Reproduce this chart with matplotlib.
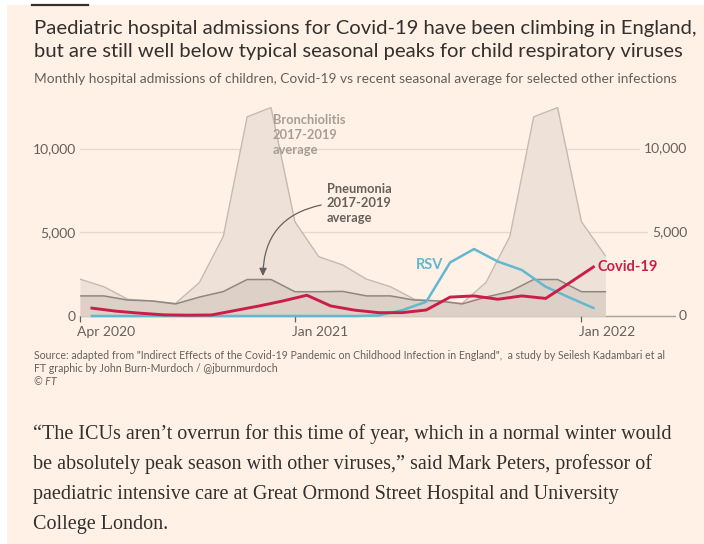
import matplotlib
matplotlib.use("Agg")
import matplotlib.pyplot as plt
from matplotlib.patches import Rectangle
from matplotlib.lines import Line2D
import matplotlib.transforms as mtransforms

# ---------------- data ----------------
# month index 0 = Apr 2020 ... 22 = Feb 2022
season_months = list(range(23))
bronchiolitis = [2200, 1750, 1000, 900, 750, 2000, 4750, 11900, 12450, 5630, 3540, 3050,
                 2200, 1750, 1000, 900, 750, 2000, 4750, 11900, 12450, 5630, 3600]
pneumonia = [1200, 1200, 950, 900, 720, 1130, 1460, 2180, 2180, 1450, 1450, 1470,
             1200, 1200, 950, 900, 720, 1130, 1460, 2180, 2180, 1450, 1450]

# monthly observations (Apr 2020 ... Jan 2022), plotted mid-month
obs_months = [m + 0.5 for m in range(22)]
covid = [470, 290, 170, 70, 50, 60, 330, 600, 900, 1240, 600, 350,
         200, 200, 360, 1130, 1200, 1000, 1200, 1050, 1980, 2930]
rsv = [0, 0, 0, 0, 0, 0, 0, 0, 0, 0, 0, 0,
       30, 350, 850, 3200, 4000, 3250, 2750, 1750, 1100, 480]

xtick_pos = [0, 9, 21]
xtick_labels = ["Apr 2020", "Jan 2021", "Jan 2022"]
ytick_vals = [0, 5000, 10000]
ytick_labels = ["0", "5,000", "10,000"]

title_lines = ["Paediatric hospital admissions for Covid-19 have been climbing in England,",
               "but are still well below typical seasonal peaks for child respiratory viruses"]
subtitle = "Monthly hospital admissions of children, Covid-19 vs recent seasonal average for selected other infections"
source_lines = ["Source: adapted from \"Indirect Effects of the Covid-19 Pandemic on Childhood Infection in England\",  a study by Seilesh Kadambari et al",
                "FT graphic by John Burn-Murdoch / @jburnmurdoch",
                "\u00a9 FT"]
quote_lines = ["\u201cThe ICUs aren\u2019t overrun for this time of year, which in a normal winter would",
               "be absolutely peak season with other viruses,\u201d said Mark Peters, professor of",
               "paediatric intensive care at Great Ormond Street Hospital and University",
               "College London."]

# ---------------- style ----------------
BG = "#FFF1E5"
DARK = "#33302E"
GREY = "#66605C"
RED = "#CC1D4A"
BLUE = "#63B8CF"
SANS = ["Lato", "DejaVu Sans"]
SERIF = ["Liberation Serif", "DejaVu Serif"]

W, H = 704, 544
fig = plt.figure(figsize=(W / 100, H / 100), dpi=100, facecolor=BG)

# white screenshot edges
fig.patches.append(Rectangle((0, 1 - 5 / H), 1, 5 / H, transform=fig.transFigure,
                             facecolor="white", edgecolor="none", zorder=0))
fig.patches.append(Rectangle((0, 0), 7 / W, 1, transform=fig.transFigure,
                             facecolor="white", edgecolor="none", zorder=0))
fig.lines.append(Line2D([32 / W, 88 / W], [1 - 5 / H, 1 - 5 / H], transform=fig.transFigure,
                        color=DARK, lw=1.6))

renderer = fig.canvas.get_renderer()


def ftext(x, y, s, **kw):
    return fig.text(x / W, 1 - y / H, s, va="baseline", ha="left", **kw)


def fit(t, width_px):
    w = t.get_window_extent(renderer).width
    t.set_fontsize(t.get_fontsize() * width_px / w)
    return t.get_fontsize()


# titles
t1 = ftext(34, 34, title_lines[0], family=SANS, fontsize=14, color=DARK)
fs = fit(t1, 665)
ftext(34, 57.3, title_lines[1], family=SANS, fontsize=fs, color=DARK)
st = ftext(34, 83.3, subtitle, family=SANS, fontsize=9, color=GREY)
fit(st, 642)

# source
s1 = ftext(34, 359, source_lines[0], family=SANS, fontsize=7, color=GREY)
fs = fit(s1, 628)
ftext(34, 372.5, source_lines[1], family=SANS, fontsize=fs, color=GREY)
ftext(34, 385, source_lines[2], family=SANS, fontsize=fs, color=GREY, style="italic")

# quote
q1 = ftext(33, 439.3, quote_lines[0], family=SERIF, fontsize=14, color=DARK)
fs = fit(q1, 643)
for i, line in enumerate(quote_lines[1:], start=1):
    ftext(33, 439.3 + 30 * i, line, family=SERIF, fontsize=fs, color=DARK)

# ---------------- chart ----------------
px_per_month = 23.88
ax_left, ax_right, ax_bottom, ax_top = 80, 687, 316, 103.4
ax = fig.add_axes([ax_left / W, 1 - ax_bottom / H, (ax_right - ax_left) / W,
                   (ax_bottom - ax_top) / H])
ax.set_facecolor("none")
ax.set_xlim(0, (ax_right - ax_left) / px_per_month)
ax.set_ylim(0, (ax_bottom - ax_top) / 0.016740)
for sp in ax.spines.values():
    sp.set_visible(False)

for v in ytick_vals[1:]:
    ax.axhline(v, color="#E4D9CF", lw=0.9, zorder=0)
ax.axhline(0, color="#A8A09A", lw=1.0, zorder=0.5, clip_on=False)

ax.fill_between(season_months, bronchiolitis, color="#EEE2D8", lw=0, zorder=1)
ax.plot(season_months, bronchiolitis, color="#C4BAB2", lw=1.0, zorder=1.2)
ax.fill_between(season_months, pneumonia, color="#DDD1C7", lw=0, zorder=2)
ax.plot(season_months, pneumonia, color="#8E8680", lw=1.1, zorder=2.2)

ax.plot(obs_months, rsv, color=BLUE, lw=1.8, zorder=4, clip_on=False)
ax.plot(obs_months, covid, color=RED, lw=2.1, zorder=5, clip_on=False)

# axis ticks
ax.set_yticks(ytick_vals)
ax.set_yticklabels(ytick_labels)
ax.set_xticks(xtick_pos)
ax.set_xticklabels(xtick_labels)
ax.tick_params(axis="y", length=0, pad=3, labelsize=10, labelcolor=GREY)
ax.tick_params(axis="x", length=4, width=0.9, color=GREY, pad=3, labelsize=10, labelcolor=GREY)
for lab in ax.get_xticklabels():
    lab.set_horizontalalignment("left")
    lab.set_fontfamily(SANS)
    lab.set_transform(lab.get_transform() + mtransforms.ScaledTranslation(-2 / 72, 0, fig.dpi_scale_trans))
for lab in ax.get_yticklabels():
    lab.set_fontfamily(SANS)

# right-hand labels
rtrans = mtransforms.blended_transform_factory(ax.transAxes, ax.transData)
for v, lab in zip(ytick_vals, ytick_labels):
    ax.text(1.0, v, lab, transform=rtrans, ha="right", va="center", fontsize=10,
            color=GREY, family=SANS, zorder=6,
            bbox=dict(facecolor=BG, edgecolor="none", pad=2.5))

# annotations
for i, line in enumerate(["Bronchiolitis", "2017-2019", "average"]):
    ax.annotate(line, xy=(8.08, 11440), xytext=(0, -i * 10.6), textcoords="offset points",
                va="baseline", ha="left", fontsize=9.3, color="#A69E97", family=SANS,
                fontweight="bold", zorder=6)
for i, line in enumerate(["Pneumonia", "2017-2019", "average"]):
    ax.annotate(line, xy=(10.33, 7366), xytext=(0, -i * 10.6), textcoords="offset points",
                va="baseline", ha="left", fontsize=9.3, color=GREY, family=SANS,
                fontweight="bold", zorder=6)
ax.annotate("", xy=(7.66, 2390), xytext=(10.1, 6630),
            arrowprops=dict(arrowstyle="-|>,head_length=0.45,head_width=0.22", color=GREY, lw=0.9,
                            connectionstyle="arc3,rad=0.4", shrinkA=0, shrinkB=0), zorder=6)

ax.text(15.2, 3050, "RSV", ha="right", va="center", fontsize=10.5, fontweight="bold",
        color=BLUE, family=SANS, zorder=6)
ax.text(21.69, 2945, "Covid-19", ha="left", va="center", fontsize=10.5, fontweight="bold",
        color=RED, family=SANS, zorder=6)

fig.savefig("out.png", dpi=100, facecolor=BG)
